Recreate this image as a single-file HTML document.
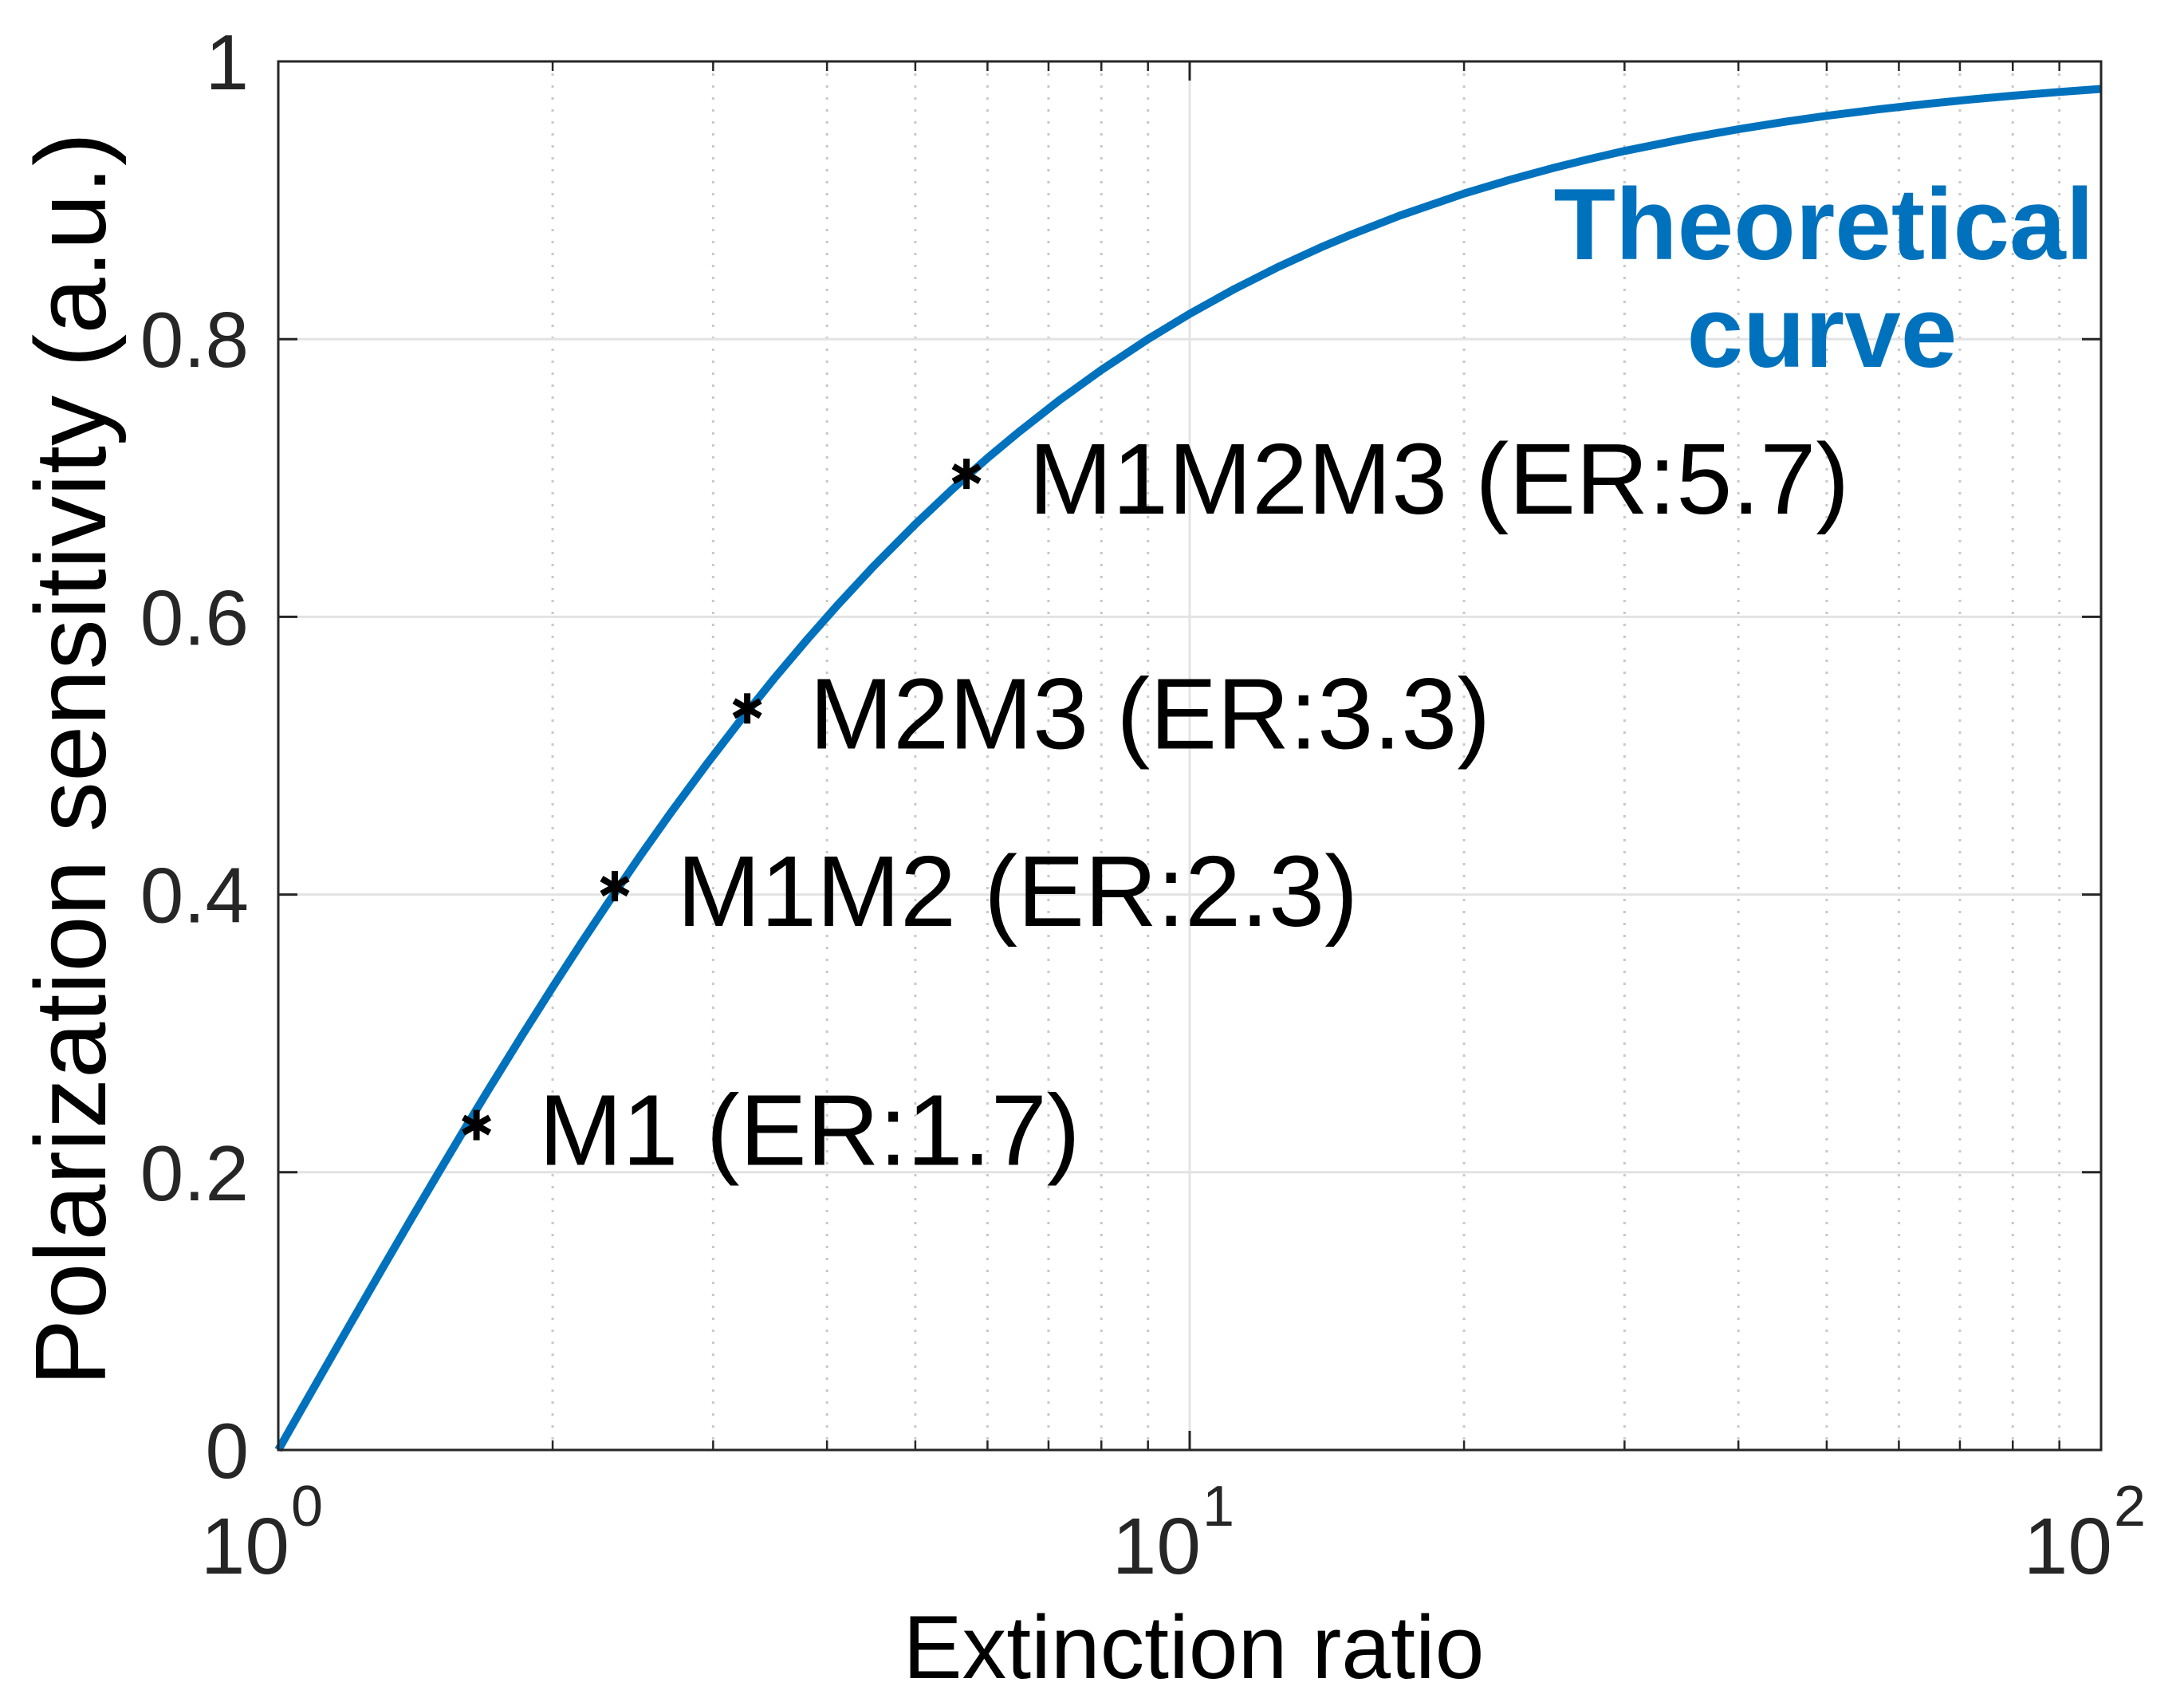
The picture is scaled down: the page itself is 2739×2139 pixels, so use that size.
<!DOCTYPE html>
<html><head><meta charset="utf-8"><style>
html,body{margin:0;padding:0;background:#fff;}
svg{display:block;font-family:"Liberation Sans",Arial,sans-serif;}
</style></head><body>
<svg id="chart" width="2739" height="2139" viewBox="0 0 2739 2139" xmlns="http://www.w3.org/2000/svg">
<rect x="0" y="0" width="2739" height="2139" fill="#fff"/>
<g id="grid"></g>
<g id="curve"></g>
<g id="markers"></g>
<g id="axes"></g>
<g id="labels"></g>
</svg>
<script>
const curveER = [1,1.05,1.1,1.15,1.2,1.3,1.4,1.5,1.6,1.7,1.85,2,2.15,2.3,2.5,2.7,2.95,3.2,3.5,3.8,4.1,4.5,5,5.5,6,6.5,7.2,8,9,10,11.2,12.5,14,15,17,20,22.5,25,27.5,30,35,40,45,50,57,65,72,80,90,100];
const curvePS = [0,0.0244,0.0476,0.0698,0.0909,0.1304,0.1667,0.2,0.2308,0.2593,0.2982,0.3333,0.3651,0.3939,0.4286,0.4595,0.4937,0.5238,0.5556,0.5833,0.6078,0.6364,0.6667,0.6923,0.7143,0.7333,0.7561,0.7778,0.8,0.8182,0.8361,0.8519,0.8667,0.875,0.8889,0.9048,0.9149,0.9231,0.9298,0.9355,0.9444,0.9512,0.9565,0.9608,0.9655,0.9697,0.9726,0.9753,0.978,0.9802];
const pointNames = ["M1 (ER:1.7)","M1M2 (ER:2.3)","M2M3 (ER:3.3)","M1M2M3 (ER:5.7)"];
const pointER = [1.65,2.34,3.27,5.69];
const pointPS = [0.234,0.406,0.534,0.703];
const yTicks = [0,0.2,0.4,0.6,0.8,1];
const yTickLabels = ["0","0.2","0.4","0.6","0.8","1"];
const xDecades = [0,1,2];

const NS="http://www.w3.org/2000/svg";
const L=349,R=2635,T=77,B=1818;
const xs=v=>L+(Math.log10(v)-0)/2*(R-L);
const ys=v=>B-v*(B-T);
function mk(tag,attrs,parent){const e=document.createElementNS(NS,tag);for(const k in attrs)e.setAttribute(k,attrs[k]);parent.appendChild(e);return e;}
const grid=document.getElementById('grid'),axes=document.getElementById('axes'),labels=document.getElementById('labels');

for(let d=0;d<2;d++)for(let m=2;m<=9;m++){
  const x=xs(m*Math.pow(10,d));
  const g=mk('line',{x1:x,y1:T,x2:x,y2:B,stroke:'#c8c8c8','stroke-width':3,'stroke-dasharray':'3 12'},grid);
  
  
  const t1=mk('line',{x1:x,y1:B,x2:x,y2:B-12,stroke:'#262626','stroke-width':2.5},axes);
  
  
  const t2=mk('line',{x1:x,y1:T,x2:x,y2:T+12,stroke:'#262626','stroke-width':2.5},axes);
  
  
}
xDecades.forEach(d=>{
  const x=xs(Math.pow(10,d));
  const g=mk('line',{x1:x,y1:T,x2:x,y2:B,stroke:'#e3e3e3','stroke-width':3},grid);
  
  
  const t1=mk('line',{x1:x,y1:B,x2:x,y2:B-24,stroke:'#262626','stroke-width':3},axes);
  
  
  const t2=mk('line',{x1:x,y1:T,x2:x,y2:T+24,stroke:'#262626','stroke-width':3},axes);
  
  
  const tx=mk('text',{x:x+14,y:1973,'font-size':100,'text-anchor':'end',fill:'#262626'},labels);
  tx.textContent='10';
  
  
  const ex=mk('text',{x:x+16,y:1913,'font-size':72,'text-anchor':'start',fill:'#262626'},labels);
  ex.textContent=String(d);
  
  
});
yTicks.forEach((v,i)=>{
  const y=ys(v);
  const g=mk('line',{x1:L,y1:y,x2:R,y2:y,stroke:'#e3e3e3','stroke-width':3},grid);
  
  
  const t1=mk('line',{x1:L,y1:y,x2:L+24,y2:y,stroke:'#262626','stroke-width':3},axes);
  
  
  const t2=mk('line',{x1:R,y1:y,x2:R-24,y2:y,stroke:'#262626','stroke-width':3},axes);
  
  
  const tx=mk('text',{x:312,y:y+35,'font-size':98,'text-anchor':'end',fill:'#262626'},labels);
  tx.textContent=yTickLabels[i];
  
  
});
const box=mk('rect',{x:L,y:T,width:R-L,height:B-T,fill:'none',stroke:'#262626','stroke-width':3},axes);



const pts=curveER.map((e,i)=>xs(e).toFixed(1)+','+ys(curvePS[i]).toFixed(1)).join(' ');
const pl=mk('polyline',{points:pts,fill:'none',stroke:'#0072BD','stroke-width':10,'stroke-linejoin':'round'},document.getElementById('curve'));



const mg=document.getElementById('markers');
pointER.forEach((e,i)=>{
  const cx=xs(e),cy=ys(pointPS[i]),r=19;
  const g=mk('g',{stroke:'#000','stroke-width':8},mg);
  
  
  mk('line',{x1:cx,y1:cy-r,x2:cx,y2:cy+r},g);
  mk('line',{x1:cx-r*0.87,y1:cy-r*0.5,x2:cx+r*0.87,y2:cy+r*0.5},g);
  mk('line',{x1:cx-r*0.87,y1:cy+r*0.5,x2:cx+r*0.87,y2:cy-r*0.5},g);
  const t=mk('text',{x:cx+78,y:cy+50,'font-size':126,fill:'#000'},labels);
  t.textContent=pointNames[i];
  
  
});
</script>
<svg style="position:absolute;left:0;top:0" width="2739" height="2139" xmlns="http://www.w3.org/2000/svg" font-family="Liberation Sans, Arial, sans-serif">
<text x="2626" y="325" font-size="127" font-weight="bold" fill="#0072BD" text-anchor="end">Theoretical</text>
<text x="2285" y="460" font-size="127" font-weight="bold" fill="#0072BD" text-anchor="middle">curve</text>
<text x="1497" y="2104" font-size="112" fill="#000" text-anchor="middle" textLength="729" lengthAdjust="spacingAndGlyphs">Extinction ratio</text>
<text transform="translate(132,952) rotate(-90)" font-size="126" fill="#000" text-anchor="middle" textLength="1572" lengthAdjust="spacingAndGlyphs">Polarization sensitivity (a.u.)</text>
</svg>
</body></html>
